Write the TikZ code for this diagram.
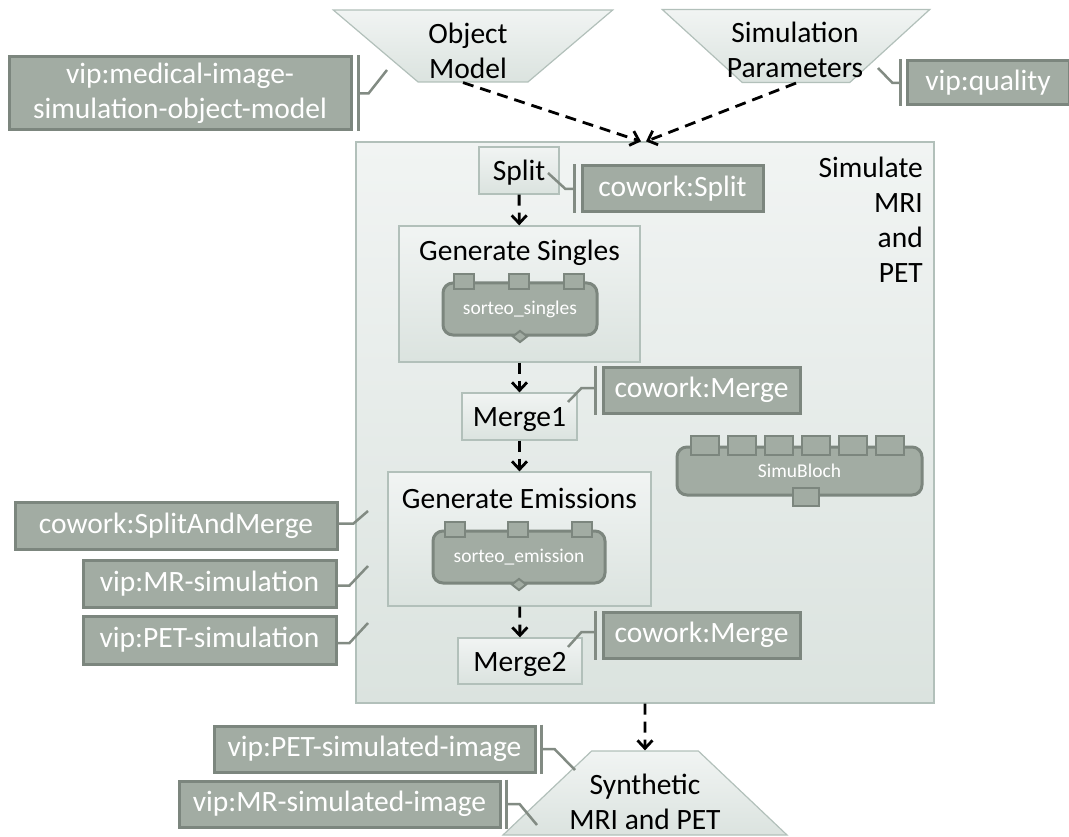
\documentclass[tikz,border=0pt]{standalone}
\usepackage{fontspec}
\setmainfont{Carlito}
\usetikzlibrary{shapes.geometric,arrows.meta}
\definecolor{tagfill}{RGB}{162,172,163}
\definecolor{tagdraw}{RGB}{124,134,126}
\definecolor{tagline}{RGB}{130,139,131}
\definecolor{boxtop}{RGB}{241,244,243}
\definecolor{boxbot}{RGB}{219,227,223}
\definecolor{boxdraw}{RGB}{178,192,186}
\begin{document}
\begin{tikzpicture}[x=1pt,y=-1pt,
    big/.style={font=\fontsize{29.5}{35}\selectfont},
    tag/.style={big, fill=tagfill, draw=tagdraw, line width=3pt, text=white, inner sep=0pt, align=center},
    box/.style={big, draw=boxdraw, line width=1.2pt, top color=boxtop, bottom color=boxbot, inner sep=0pt},
    lowtxt/.style={text height=26pt, text depth=6pt},
    trap/.style={box, trapezium, trapezium stretches=true, align=center},
    comp/.style={fill=tagfill, draw=tagdraw, line width=3pt, rounded corners=10pt, text=white,
        font=\fontsize{19.5}{22}\selectfont, inner sep=0pt},
    port/.style={fill=tagfill, draw=tagdraw, line width=2pt, inner sep=0pt},
    flow/.style={-{Straight Barb[length=8pt,width=15pt]}, line width=2.8pt, dash pattern=on 11pt off 7pt},
    pin/.style={draw=tagline, line width=2.5pt},
]
    \useasboundingbox (0,0) rectangle (1069,837);

    % data in and out
    \node[trap, shape border rotate=180, trapezium left angle=55, trapezium right angle=55,
        minimum width=280pt, minimum height=72pt] (om) at (473,46) {\phantom{x}};
    \node[big, align=center, inner sep=0pt] (omtxt) at (468,51) {Object\\Model};
    \node[trap, shape border rotate=180, trapezium left angle=56, trapezium right angle=56,
        minimum width=268pt, minimum height=73pt] (sp) at (796,46) {\phantom{x}};
    \node[big, align=center, inner sep=0pt] (sptxt) at (795,50) {Simulation\\Parameters};
    \node[trap, trapezium left angle=53, trapezium right angle=53,
        minimum width=284pt, minimum height=84pt] (out) at (645,793) {\phantom{x}};
    \node[big, align=center, inner sep=0pt] (outtxt) at (645,802) {Synthetic\\MRI and PET};

    % workflow
    \node[box, minimum width=578pt, minimum height=561pt] (sim) at (645,422.5) {};
    \node[big, anchor=north east, align=right, inner sep=0pt] (simtxt) at (923,157) {Simulate\\MRI\\and\\PET};
    \node[box, lowtxt, minimum width=80pt, minimum height=47pt] (split) at (519,170.5) {Split};
    \node[box, minimum width=241pt, minimum height=136pt] (gs) at (519.5,294) {};
    \node[big, inner sep=0pt] (gstxt) at (519.5,253) {Generate Singles};
    \node[box, lowtxt, minimum width=115pt, minimum height=47pt] (m1) at (519.5,416.5) {Merge1};
    \node[box, minimum width=263pt, minimum height=134pt] (ge) at (519.5,539) {};
    \node[big, inner sep=0pt] (getxt) at (519.5,498) {Generate Emissions};
    \node[box, lowtxt, minimum width=124pt, minimum height=46pt] (m2) at (520,661) {Merge2};

    % components
    \node[comp, minimum width=154pt, minimum height=52pt] (ss) at (520,309) {sorteo\_singles};
    \foreach \dx in {-56,-1,54}
        \node[port, minimum width=20pt, minimum height=15pt] at ([xshift=\dx pt]ss.north) {};
    \node[port, diamond, minimum width=15pt, minimum height=12pt] at (ss.south) {};
    \node[comp, minimum width=172pt, minimum height=52pt] (se) at (519,557) {sorteo\_emission};
    \foreach \dx in {-64,-1,63}
        \node[port, minimum width=20pt, minimum height=15pt] at ([xshift=\dx pt]se.north) {};
    \node[port, diamond, minimum width=15pt, minimum height=12pt] at (se.south) {};
    \node[comp, minimum width=245pt, minimum height=48pt] (sb) at (799.5,471) {SimuBloch};
    \foreach \dx in {-95,-58,-21,16,53,90}
        \node[port, minimum width=28pt, minimum height=19pt] at ([xshift=\dx pt]sb.north) {};
    \node[port, minimum width=26pt, minimum height=18pt] at ([xshift=6pt]sb.south) {};

    % annotations
    \node[tag, minimum width=342pt, minimum height=73pt] (tmed) at (180,93.5) {vip:medical-image-\\simulation-object-model};
    \node[tag, minimum width=162pt, minimum height=44pt] (tqual) at (988,83) {vip:quality};
    \node[tag, minimum width=181pt, minimum height=46pt] (tsplit) at (672.5,189) {cowork:Split};
    \node[tag, minimum width=197pt, minimum height=46pt] (tm1) at (701.5,390) {cowork:Merge};
    \node[tag, minimum width=197pt, minimum height=46pt] (tm2) at (701.5,635) {cowork:Merge};
    \node[tag, minimum width=322pt, minimum height=47pt] (tsam) at (176,525.5) {cowork:SplitAndMerge};
    \node[tag, minimum width=253pt, minimum height=47pt] (tmr) at (209.5,583.5) {vip:MR-simulation};
    \node[tag, minimum width=253pt, minimum height=48pt] (tpet) at (209.5,640) {vip:PET-simulation};
    \node[tag, minimum width=321pt, minimum height=46pt] (tpeti) at (374.5,749) {vip:PET-simulated-image};
    \node[tag, minimum width=321pt, minimum height=46pt] (tmri) at (339.5,804) {vip:MR-simulated-image};

    \coordinate (om-pin) at (387,70);
    \coordinate (sp-pin) at (878,68);
    \coordinate (split-pin) at (548,173);
    \coordinate (m1-pin) at (568,402);
    \coordinate (m2-pin) at (568,647);
    \coordinate (sim-pin1) at (368,511);
    \coordinate (sim-pin2) at (368,566);
    \coordinate (sim-pin3) at (368,623);
    \coordinate (out-pin1) at (575,770);
    \coordinate (out-pin2) at (537,825);

    \draw[pin] ([xshift=6pt]tmed.north east) -- ([xshift=6pt]tmed.south east);
    \draw[pin] ([xshift=6pt]tmed.east) -- ++(10,0) -- (om-pin);
    \draw[pin] ([xshift=-5pt]tqual.north west) -- ([xshift=-5pt]tqual.south west);
    \draw[pin] ([xshift=-5pt]tqual.west) -- ++(-8,0) -- (sp-pin);
    \draw[pin] ([xshift=-6pt]tsplit.north west) -- ([xshift=-6pt]tsplit.south west);
    \draw[pin] ([xshift=-6pt]tsplit.west) -- ++(-9,0) -- (split-pin);
    \draw[pin] ([xshift=-6pt]tm1.north west) -- ([xshift=-6pt]tm1.south west);
    \draw[pin] ([xshift=-6pt,yshift=2pt]tm1.west) -- ++(-14,0) -- (m1-pin);
    \draw[pin] ([xshift=-6pt]tm2.north west) -- ([xshift=-6pt]tm2.south west);
    \draw[pin] ([xshift=-6pt,yshift=3pt]tm2.west) -- ++(-14,0) -- (m2-pin);
    \draw[pin] ([yshift=2pt]tsam.east) -- ++(15,0) -- (sim-pin1);
    \draw[pin] ([yshift=-2pt]tmr.east) -- ++(12,0) -- (sim-pin2);
    \draw[pin] ([yshift=-3pt]tpet.east) -- ++(12,0) -- (sim-pin3);
    \draw[pin] ([xshift=5pt]tpeti.north east) -- ([xshift=5pt]tpeti.south east);
    \draw[pin] ([xshift=5pt]tpeti.east) -- ++(13,0) -- (out-pin1);
    \draw[pin] ([xshift=5pt]tmri.north east) -- ([xshift=5pt]tmri.south east);
    \draw[pin] ([xshift=5pt]tmri.east) -- ++(13,0) -- (out-pin2);

    % flow
    \draw[flow] ([xshift=-10pt]om.south) -- ([xshift=-4pt]sim.north);
    \draw[flow] (sp.south) -- ([xshift=1pt]sim.north);
    \draw[flow] (split) -- (gs);
    \draw[flow] (gs) -- (m1);
    \draw[flow] (m1) -- (ge);
    \draw[flow] (ge) -- (m2);
    \draw[flow] (sim) -- (out);
\end{tikzpicture}
\end{document}
